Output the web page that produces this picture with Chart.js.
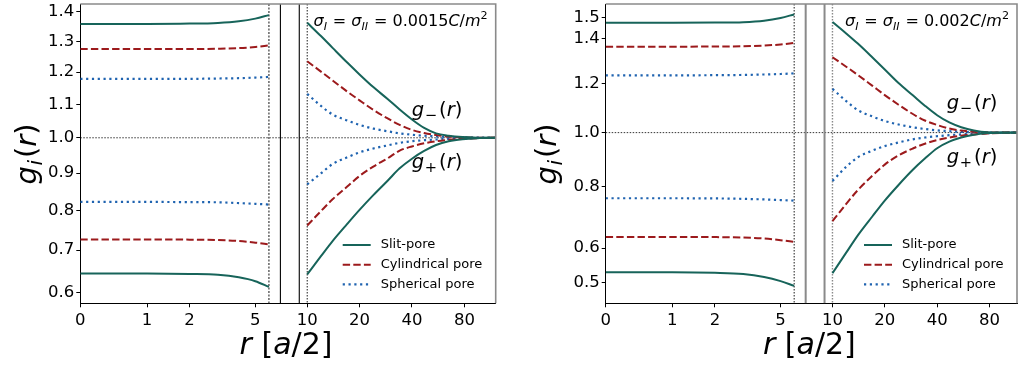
<!DOCTYPE html>
<html><head><meta charset="utf-8">
<script src="https://cdn.jsdelivr.net/npm/chart.js@4.4.0/dist/chart.umd.min.js"></script>
<style>
html,body{margin:0;padding:0;background:#fff;width:1019px;height:369px;overflow:hidden}
#wl{position:absolute;left:0;top:0;width:510px;height:369px}
#wr{position:absolute;left:510px;top:0;width:509px;height:369px}
canvas{display:block}
</style></head><body>
<div id="wl"><canvas id="cl" width="510" height="369"></canvas></div>
<div id="wr"><canvas id="cr" width="509" height="369"></canvas></div>
<script>
// ---------- data ----------
const seriesNames = ['Slit-pore', 'Cylindrical pore', 'Spherical pore'];
const xTickValues = [0, 1, 2, 5, 10, 20, 40, 80];
const xTickLabels = ['0', '1', '2', '5', '10', '20', '40', '80'];
const yTicksLeft = [0.6, 0.7, 0.8, 0.9, 1.0, 1.1, 1.2, 1.3, 1.4];
const yTicksRight = [0.5, 0.6, 0.8, 1.0, 1.2, 1.4, 1.5];
const poreEdges = [6, 10];
const poreWalls = [7, 9];

const rIn = [0, 1, 2, 3, 4, 5, 6];
const rOut = [10, 12, 14, 17, 20, 24, 29, 34, 40, 47, 55, 65, 78, 95, 120];

// sigma = 0.0015 C/m^2
const L_slitMinusIn = [1.359, 1.359, 1.360, 1.3625, 1.368, 1.377, 1.389];
const L_slitPlusIn  = [0.644, 0.644, 0.643, 0.641, 0.635, 0.626, 0.613];
const L_cylMinusIn  = [1.275, 1.275, 1.275, 1.276, 1.278, 1.282, 1.287];
const L_cylPlusIn   = [0.726, 0.726, 0.7255, 0.7245, 0.722, 0.718, 0.714];
const L_sphMinusIn  = [1.179, 1.179, 1.179, 1.180, 1.181, 1.183, 1.185];
const L_sphPlusIn   = [0.822, 0.822, 0.8215, 0.821, 0.819, 0.817, 0.815];
const L_slitMinusOut = [1.363, 1.318, 1.279, 1.231, 1.193, 1.153, 1.116, 1.084, 1.054, 1.029, 1.013, 1.006, 1.002, 1.0003, 1.0];
const L_slitPlusOut  = [0.642, 0.685, 0.722, 0.765, 0.801, 0.840, 0.879, 0.913, 0.940, 0.962, 0.979, 0.990, 0.996, 0.999, 1.0];
const L_cylMinusOut  = [1.235, 1.202, 1.174, 1.139, 1.112, 1.083, 1.057, 1.038, 1.023, 1.014, 1.008, 1.0035, 1.001, 1.0003, 1.0];
const L_cylPlusOut   = [0.761, 0.798, 0.829, 0.863, 0.892, 0.918, 0.941, 0.963, 0.975, 0.984, 0.990, 0.994, 0.997, 0.999, 1.0];
const L_sphMinusOut  = [1.132, 1.095, 1.069, 1.051, 1.038, 1.027, 1.019, 1.013, 1.009, 1.006, 1.004, 1.002, 1.001, 1.0003, 1.0];
const L_sphPlusOut   = [0.869, 0.899, 0.925, 0.944, 0.958, 0.969, 0.978, 0.9855, 0.990, 0.993, 0.995, 0.997, 0.998, 0.9994, 1.0];

// sigma = 0.002 C/m^2
const R_slitMinusIn = [1.475, 1.475, 1.476, 1.478, 1.485, 1.498, 1.515];
const R_slitPlusIn  = [0.529, 0.529, 0.5275, 0.524, 0.5155, 0.504, 0.491];
const R_cylMinusIn  = [1.364, 1.364, 1.3645, 1.366, 1.369, 1.374, 1.381];
const R_cylPlusIn   = [0.634, 0.634, 0.6335, 0.632, 0.629, 0.624, 0.619];
const R_sphMinusIn  = [1.236, 1.236, 1.237, 1.238, 1.240, 1.242, 1.245];
const R_sphPlusIn   = [0.760, 0.760, 0.7595, 0.758, 0.756, 0.754, 0.752];
const R_slitMinusOut = [1.479, 1.425, 1.378, 1.315, 1.262, 1.203, 1.151, 1.108, 1.069, 1.040, 1.021, 1.008, 1.001, 1.0, 1.0];
const R_slitPlusOut  = [0.526, 0.586, 0.639, 0.700, 0.752, 0.806, 0.860, 0.901, 0.940, 0.965, 0.981, 0.992, 0.998, 0.9996, 1.0];
const R_cylMinusOut  = [1.316, 1.274, 1.238, 1.191, 1.152, 1.112, 1.074, 1.048, 1.030, 1.016, 1.008, 1.003, 1.001, 1.0, 1.0];
const R_cylPlusOut   = [0.684, 0.741, 0.788, 0.839, 0.879, 0.913, 0.939, 0.957, 0.971, 0.981, 0.988, 0.993, 0.997, 0.999, 1.0];
const R_sphMinusOut  = [1.178, 1.127, 1.090, 1.064, 1.046, 1.032, 1.021, 1.014, 1.009, 1.0055, 1.003, 1.0016, 1.0006, 1.0, 1.0];
const R_sphPlusOut   = [0.820, 0.871, 0.906, 0.931, 0.948, 0.962, 0.974, 0.981, 0.986, 0.990, 0.993, 0.996, 0.998, 0.9992, 1.0];

// ---------- styles ----------
const FONT = '"DejaVu Sans", "Liberation Sans", sans-serif';
const lineStyles = [
  {color: '#17645a', width: 2, dash: []},
  {color: '#9c1a1c', width: 2, dash: [7.4, 3.2]},
  {color: '#1f63b0', width: 2.2, dash: [2.2, 3.6]}
];

// transforms: x axis is asinh(r), y axis is sqrt(g)
const tx = r => Math.asinh(r);
const ty = g => Math.sqrt(g);

function buildPoints(inArr, outArr) {
  const pts = rIn.map((r, i) => ({x: tx(r), y: ty(inArr[i])}));
  pts.push({x: tx(8), y: null});
  rOut.forEach((r, i) => pts.push({x: tx(r), y: ty(outArr[i])}));
  return pts;
}

function makeDatasets(groups) {
  const ds = [];
  groups.forEach((pair, si) => {
    pair.forEach(([a, b]) => {
      const st = lineStyles[si];
      ds.push({
        label: seriesNames[si],
        data: buildPoints(a, b),
        borderColor: st.color,
        borderWidth: st.width,
        borderDash: st.dash,
        borderCapStyle: 'butt',
        pointRadius: 0,
        fill: false,
        spanGaps: false,
        cubicInterpolationMode: 'monotone'
      });
    });
  });
  return ds;
}

function richWidth(ctx, parts, size) {
  let w = 0;
  parts.forEach(p => {
    ctx.font = (p.i ? 'italic ' : '') + (size * (p.s || 1)).toFixed(2) + 'px ' + FONT;
    w += ctx.measureText(p.t).width + (p.sp || 0) * size;
  });
  return w;
}
function drawRich(ctx, parts, x, y, size, align) {
  const w = richWidth(ctx, parts, size);
  let cx = align === 'right' ? x - w : align === 'center' ? x - w / 2 : x;
  ctx.textBaseline = 'alphabetic';
  ctx.textAlign = 'left';
  parts.forEach(p => {
    ctx.font = (p.i ? 'italic ' : '') + (size * (p.s || 1)).toFixed(2) + 'px ' + FONT;
    ctx.fillText(p.t, cx, y + (p.dy || 0) * size);
    cx += ctx.measureText(p.t).width + (p.sp || 0) * size;
  });
}

function sigmaParts(val) {
  return [
    {t: 'σ', i: true}, {t: 'I', i: true, s: 0.7, dy: 0.22, sp: 0.05},
    {t: ' = '},
    {t: 'σ', i: true}, {t: 'II', i: true, s: 0.7, dy: 0.22, sp: 0.05},
    {t: ' = ' + val},
    {t: 'C', i: true}, {t: '/'}, {t: 'm', i: true},
    {t: '2', s: 0.7, dy: -0.42}
  ];
}
function gParts(sign) {
  return [
    {t: 'g', i: true, sp: 0.04},
    {t: sign, s: 0.75, dy: 0.2, sp: 0.1},
    {t: '('}, {t: 'r', i: true}, {t: ')'}
  ];
}

const decorPlugin = {
  id: 'decor',
  beforeDatasetsDraw(chart) {
    const {ctx, chartArea: ca, scales: {x, y}} = chart;
    const p = chart.options.plugins.decor;
    ctx.save();
    ctx.beginPath();
    ctx.rect(ca.left, ca.top, ca.right - ca.left, ca.bottom - ca.top);
    ctx.clip();
    ctx.strokeStyle = '#000';
    ctx.lineWidth = 0.8;
    ctx.setLineDash([1.5, 1.5]);
    const y1 = y.getPixelForValue(ty(1));
    ctx.beginPath(); ctx.moveTo(ca.left, y1); ctx.lineTo(ca.right, y1); ctx.stroke();
    poreEdges.forEach((r, k) => {
      const st = p.edge[k];
      ctx.strokeStyle = st.color; ctx.lineWidth = st.width; ctx.setLineDash(st.dash);
      const xx = x.getPixelForValue(tx(r));
      ctx.beginPath(); ctx.moveTo(xx, ca.top); ctx.lineTo(xx, ca.bottom); ctx.stroke();
    });
    ctx.setLineDash([]);
    poreWalls.forEach(r => {
      ctx.strokeStyle = p.wall.color; ctx.lineWidth = p.wall.width;
      const xx = x.getPixelForValue(tx(r));
      ctx.beginPath(); ctx.moveTo(xx, ca.top); ctx.lineTo(xx, ca.bottom); ctx.stroke();
    });
    ctx.restore();
  },
  afterDraw(chart) {
    const {ctx, chartArea: ca} = chart;
    const p = chart.options.plugins.decor;
    ctx.save();
    ctx.strokeStyle = '#8a8a8a'; ctx.lineWidth = 1.6; ctx.setLineDash([]);
    ctx.beginPath();
    ctx.moveTo(ca.left, ca.top); ctx.lineTo(ca.right, ca.top); ctx.lineTo(ca.right, ca.bottom);
    ctx.stroke();
    ctx.fillStyle = '#000';
    drawRich(ctx, sigmaParts(p.sigma), ca.right - 8, 26, 16, 'right');
    drawRich(ctx, gParts('\u2212'), p.gx, p.gmY, 19.5, 'left');
    drawRich(ctx, gParts('+'), p.gx, p.gpY, 19.5, 'left');
    const lx1 = ca.right - 153, lx2 = ca.right - 125, ltx = ca.right - 115;
    [58.3, 38.6, 19].forEach((dy, i) => {
      const yy = ca.bottom - dy;
      const st = lineStyles[i];
      ctx.strokeStyle = st.color; ctx.lineWidth = st.width; ctx.setLineDash(st.dash);
      ctx.beginPath(); ctx.moveTo(lx1, yy); ctx.lineTo(lx2, yy); ctx.stroke();
      ctx.setLineDash([]);
      ctx.fillStyle = '#000';
      ctx.font = '13px ' + FONT;
      ctx.textBaseline = 'middle'; ctx.textAlign = 'left';
      ctx.fillText(seriesNames[i], ltx, yy);
    });
    ctx.fillStyle = '#000';
    drawRich(ctx, [{t: 'r', i: true}, {t: ' ['}, {t: 'a', i: true}, {t: '/2]'}],
      (ca.left + ca.right) / 2 - 2, 354, 30, 'center');
    ctx.save();
    ctx.translate(p.ytX, 154);
    ctx.rotate(-Math.PI / 2);
    drawRich(ctx, [{t: 'g', i: true, sp: 0.02}, {t: 'i', i: true, s: 0.7, dy: 0.2, sp: 0.06}, {t: '('}, {t: 'r', i: true}, {t: ')'}],
      0, 0, 29, 'center');
    ctx.restore();
    ctx.restore();
  }
};

function makeChart(id, cfg) {
  new Chart(document.getElementById(id), {
    type: 'line',
    data: {datasets: makeDatasets(cfg.groups)},
    options: {
      responsive: false,
      animation: false,
      devicePixelRatio: 1,
      layout: {padding: {left: 0, top: 4, right: cfg.padRight, bottom: 0}},
      plugins: {
        legend: {display: false},
        tooltip: {enabled: false},
        decor: cfg.decor
      },
      scales: {
        x: {
          type: 'linear',
          min: 0, max: tx(cfg.xMax),
          afterBuildTicks: s => { s.ticks = xTickValues.map(v => ({value: tx(v)})); },
          afterFit: s => { s.height = 65.7; s.paddingLeft = 0; s.paddingRight = 0; },
          ticks: {
            autoSkip: false, maxRotation: 0, padding: 4, color: '#000',
            font: {family: FONT, size: 16.5},
            callback: (v, i) => xTickLabels[i]
          },
          grid: {drawOnChartArea: false, drawTicks: true, tickLength: 4, color: '#000', lineWidth: 1},
          border: {display: true, color: '#000', width: 1}
        },
        y: {
          type: 'linear',
          min: ty(cfg.yMin), max: ty(cfg.yMax),
          afterBuildTicks: s => { s.ticks = cfg.yTicks.map(v => ({value: ty(v)})); },
          afterFit: s => { s.width = cfg.yWidth; s.paddingTop = 0; s.paddingBottom = 0; },
          ticks: {
            autoSkip: false, padding: 2, color: '#000',
            font: {family: FONT, size: 16.5},
            callback: (v, i) => cfg.yTicks[i].toFixed(1)
          },
          grid: {drawOnChartArea: false, drawTicks: true, tickLength: 4, color: '#000', lineWidth: 1},
          border: {display: true, color: '#000', width: 1}
        }
      }
    },
    plugins: [decorPlugin]
  });
}

makeChart('cl', {
  groups: [
    [[L_slitMinusIn, L_slitMinusOut], [L_slitPlusIn, L_slitPlusOut]],
    [[L_cylMinusIn, L_cylMinusOut], [L_cylPlusIn, L_cylPlusOut]],
    [[L_sphMinusIn, L_sphMinusOut], [L_sphPlusIn, L_sphPlusOut]]
  ],
  xMax: 121, yMin: 0.5762, yMax: 1.4274, yTicks: yTicksLeft,
  yWidth: 80.3, padRight: 14.3,
  decor: {
    sigma: '0.0015', gx: 411.7, gmY: 116, gpY: 168, ytX: 36,
    edge: [{color: '#7a7a7a', width: 1.8, dash: [2, 1.5]}, {color: '#000', width: 0.9, dash: [1.5, 1.5]}],
    wall: {color: '#000', width: 1.1}
  }
});

makeChart('cr', {
  groups: [
    [[R_slitMinusIn, R_slitMinusOut], [R_slitPlusIn, R_slitPlusOut]],
    [[R_cylMinusIn, R_cylMinusOut], [R_cylPlusIn, R_cylPlusOut]],
    [[R_sphMinusIn, R_sphMinusOut], [R_sphPlusIn, R_sphPlusOut]]
  ],
  xMax: 115, yMin: 0.4444, yMax: 1.5655, yTicks: yTicksRight,
  yWidth: 95.7, padRight: 2,
  decor: {
    sigma: '0.002', gx: 436.7, gmY: 109, gpY: 163, ytX: 45.8,
    edge: [{color: '#000', width: 0.9, dash: [1.5, 1.5]}, {color: '#8a8a8a', width: 1.4, dash: [1.5, 1.5]}],
    wall: {color: '#8a8a8a', width: 2}
  }
});
</script>
</body></html>
